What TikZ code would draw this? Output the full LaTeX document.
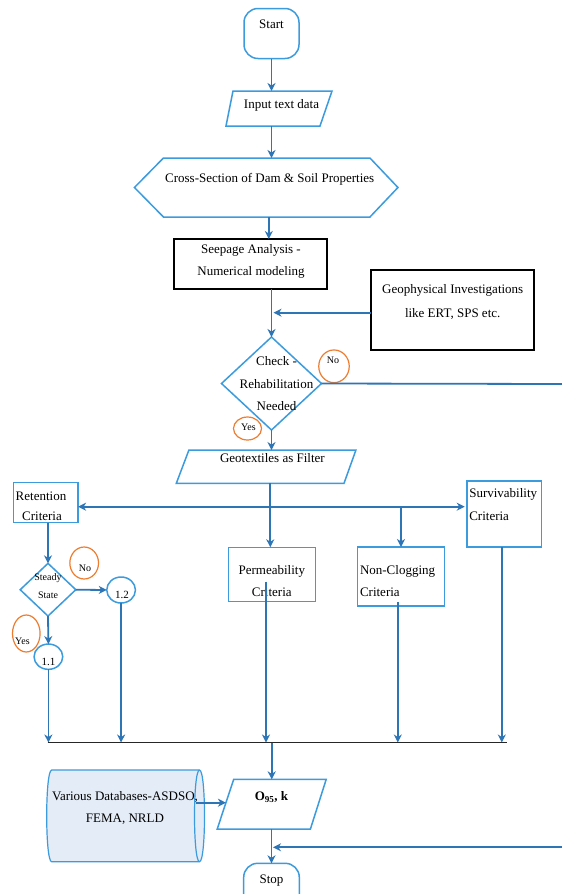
\documentclass[tikz,border=0pt]{standalone}
\usepackage{fontspec}
\setmainfont{Liberation Serif}
\usetikzlibrary{arrows.meta,shapes.geometric}
\definecolor{arr}{HTML}{2E75B6}
\definecolor{bd}{HTML}{3C9BDC}
\definecolor{org}{HTML}{ED7D31}
\definecolor{dbfill}{HTML}{E4ECF7}
\begin{document}
\begin{tikzpicture}[x=1pt,y=-1pt,
  every node/.style={inner sep=0pt,outer sep=0pt},
  tx/.style={font=\fontsize{13}{22}\selectfont,align=center},
  sm/.style={font=\fontsize{10}{11}\selectfont},
  bline/.style={draw=bd,line width=1.5pt},
  blk/.style={draw=black,line width=1.7pt},
  flow/.style={draw=arr,line width=1.8pt,-{Stealth[length=8pt,width=8pt,inset=2.5pt]}},
  plain/.style={draw=arr,line width=1.8pt},
  ocirc/.style={ellipse,draw=org,line width=1.2pt},
  bcirc/.style={ellipse,draw=bd,line width=1.5pt},
]
\useasboundingbox (0,0) rectangle (562,894);
\clip (0,0) rectangle (562,894);
\fill[white] (0,0) rectangle (562,894);

% Start
\node[bline,rectangle,rounded corners=14pt,minimum width=55pt,minimum height=50pt] (start) at (271.5,33.5) {};
\node[tx] (tstart) at (271.5,24) {Start};

% Input text data
\node[rectangle,minimum width=106pt,minimum height=35pt] (inp) at (279,108.5) {};
\draw[bline] ([xshift=7pt]inp.north west) -- (inp.north east) -- ([xshift=-12pt]inp.south east) -- (inp.south west) -- cycle;
\node[tx] (tinp) at (281.5,105) {Input text data};

% Cross-section hexagon
\node[rectangle,minimum width=263.5pt,minimum height=59pt] (cs) at (266.2,187.5) {};
\draw[bline] (cs.west) -- ([xshift=29pt]cs.north west) -- ([xshift=-28pt]cs.north east) -- (cs.east) -- ([xshift=-28pt]cs.south east) -- ([xshift=29pt]cs.south west) -- cycle;
\node[tx] (tcs) at (269.7,179) {Cross-Section of Dam \& Soil Properties};

% Seepage
\node[blk,rectangle,minimum width=153pt,minimum height=50pt] (seep) at (250.8,264) {};
\node[tx] (tseep) at (251,261) {Seepage Analysis -\\Numerical modeling};

% Geophysical
\node[blk,rectangle,minimum width=163pt,minimum height=80pt] (geo) at (452.5,310) {};
\node[tx,font=\fontsize{13}{24}\selectfont] (tgeo) at (452.7,302) {Geophysical Investigations\\like ERT, SPS etc.};

% Check diamond
\node[rectangle,minimum width=100pt,minimum height=93pt] (chk) at (271.5,383.5) {};
\draw[bline] (chk.north) -- (chk.east) -- (chk.south) -- (chk.west) -- cycle;
\node[tx,font=\fontsize{13}{22.5}\selectfont] (tchk) at (276.5,384) {Check -\\Rehabilitation\\Needed};

\node[ocirc,minimum width=30.5pt,minimum height=32.7pt] (no1) at (334,366.3) {};
\node[sm] (tno1) at (333,360) {No};
\node[ocirc,minimum width=28pt,minimum height=23pt] (yes1) at (247.5,428.5) {};
\node[sm] (tyes1) at (248.5,427) {Yes};

% Geotextiles
\node[rectangle,minimum width=179.6pt,minimum height=33.3pt] (gt) at (266.1,466.7) {};
\draw[bline] ([xshift=12.6pt]gt.north west) -- (gt.north east) -- ([xshift=-11.9pt]gt.south east) -- (gt.south west) -- cycle;
\node[tx] (tgt) at (272.4,458.5) {Geotextiles as Filter};

% Criteria boxes
\node[bline,rectangle,minimum width=64.8pt,minimum height=40pt] (ret) at (45.7,502.7) {};
\node[tx,font=\fontsize{13}{19.3}\selectfont] (tret) at (41,506.3) {Retention\\\hspace*{2pt}Criteria};
\node[bline,rectangle,minimum width=74.5pt,minimum height=66pt] (surv) at (504,514) {};
\node[tx,align=left,anchor=west,font=\fontsize{13}{23.3}\selectfont] (tsurv) at (469.3,504.4) {Survivability\\Criteria};
\node[bline,rectangle,minimum width=86.7pt,minimum height=54.4pt] (perm) at (272,574.5) {};
\node[tx] (tperm) at (271.8,581) {Permeability\\Criteria};
\node[bline,rectangle,minimum width=86.7pt,minimum height=59pt] (ncl) at (401,576.5) {};
\node[tx,align=left,anchor=west] (tncl) at (360,581) {Non-Clogging\\Criteria};

% Steady state
\node[rectangle,minimum width=55.6pt,minimum height=52.7pt] (ss) at (48,589.7) {};
\draw[bline] (ss.north) -- (ss.east) -- (ss.south) -- (ss.west) -- cycle;
\node[tx,font=\fontsize{10}{18.3}\selectfont] (tss) at (48,585.8) {Steady\\State};
\node[ocirc,minimum width=28.7pt,minimum height=32pt] (no2) at (84.2,563) {};
\node[sm] (tno2) at (85,568) {No};
\node[ocirc,minimum width=27.6pt,minimum height=37pt] (yes2) at (26.3,633.5) {};
\node[sm] (tyes2) at (22.4,641) {Yes};
\node[bcirc,minimum width=28.7pt,minimum height=26pt] (c12) at (121.1,590) {};
\node[font=\fontsize{11}{12}\selectfont] (tc12) at (121.9,595) {1.2};
\node[bcirc,minimum width=28.7pt,minimum height=25.3pt] (c11) at (48.4,656.7) {};
\node[font=\fontsize{11}{12}\selectfont] (tc11) at (48.4,661.5) {1.1};

% O95
\node[rectangle,minimum width=109pt,minimum height=49.7pt] (o95) at (271.7,804.2) {};
\draw[bline] ([xshift=16.5pt]o95.north west) -- (o95.north east) -- ([xshift=-15.8pt]o95.south east) -- (o95.south west) -- cycle;
\node[tx] (to95) at (271.5,796.7) {\textbf{O}\textsubscript{\textbf{95}}\textbf{, k}};

% Database cylinder
\node[rectangle,minimum width=157.8pt,minimum height=91.7pt] (db) at (125.6,815.9) {};
\path[fill=dbfill,draw=bd,line width=1.2pt] ([xshift=5pt]db.north west) -- ([xshift=-5pt]db.north east)
  .. controls ([xshift=1.67pt]db.north east) and ([xshift=1.67pt]db.south east) .. ([xshift=-5pt]db.south east)
  -- ([xshift=5pt]db.south west)
  .. controls ([xshift=-1.67pt]db.south west) and ([xshift=-1.67pt]db.north west) .. cycle;
\draw[bd,line width=1.2pt] ([xshift=-5pt]db.north east) .. controls ([xshift=-11.67pt]db.north east) and ([xshift=-11.67pt]db.south east) .. ([xshift=-5pt]db.south east);
\node[tx,font=\fontsize{13}{22.6}\selectfont] (tdb) at (125,808) {Various Databases-ASDSO,\\FEMA, NRLD};

% Stop
\node[bline,rectangle,rounded corners=14pt,minimum width=55.6pt,minimum height=50pt] (stop) at (271.5,888.3) {};
\node[tx] (tstop) at (271.5,880.5) {Stop};

% coordinates
\coordinate (nx) at (562,384);
\coordinate (rx) at (562,847.3);
\coordinate (split) at (270.3,506.7);
\coordinate (colL) at (47.7,742.5);
\coordinate (colR) at (506.5,742.5);
\coordinate (colM) at (271.7,742.5);

% connectors
\draw[flow] (start.south) -- (start.south |- inp.north);
\draw[flow] (start.south |- inp.south) -- (start.south |- cs.north);
\draw[flow] ([xshift=2.6pt]cs.south) -- ([xshift=2.6pt]cs.south |- seep.north);
\draw[flow] (chk.north |- seep.south) -- (chk.north);
\draw[flow] ([yshift=-2.7pt]geo.west) -- ([xshift=2pt,yshift=-2.7pt]geo.west -| chk.north);
\draw[plain] (chk.east) -- (nx);
\draw[flow] (chk.south) -- (chk.south |- gt.north);
\draw[plain] (split |- gt.south) -- (split);
\draw[flow] (split) -- (split -| ret.east);
\draw[flow] (split) -- ([xshift=-2pt]split -| surv.west);
\draw[flow] (split) -- (split |- perm.north);
\draw[flow] (split -| ncl.north) -- (ncl.north);
\draw[flow] (ret.south -| ss.north) -- (ss.north);
\draw[flow] (ss.east) -- (c12.west);
\draw[flow] (ss.south) -- (c11.north);
\draw[flow] (c11.south) -- (c11.south |- colL);
\draw[flow] (c12.south) -- (c12.south |- colL);
\draw[flow] ([xshift=-6pt,yshift=-7pt]perm.center) -- ([xshift=-6pt]perm.center |- colL);
\draw[flow] ([xshift=-3.2pt,yshift=4pt]ncl.south) -- ([xshift=-3.2pt]ncl.south |- colL);
\draw[flow] ([xshift=-2.2pt]surv.south) -- ([xshift=-2.2pt]surv.south |- colL);
\draw[black!85,line width=1.5pt] (colL) -- (colR);
\draw[flow] (colM) -- (colM |- o95.north);
\draw[flow] ([xshift=-8.8pt,yshift=13.2pt]db.east) -- ([xshift=8.7pt,yshift=1.5pt]o95.west);
\draw[flow] (stop.north |- o95.south) -- (stop.north);
\draw[flow] (rx) -- ([xshift=1.5pt]rx -| stop.north);
\end{tikzpicture}
\end{document}
